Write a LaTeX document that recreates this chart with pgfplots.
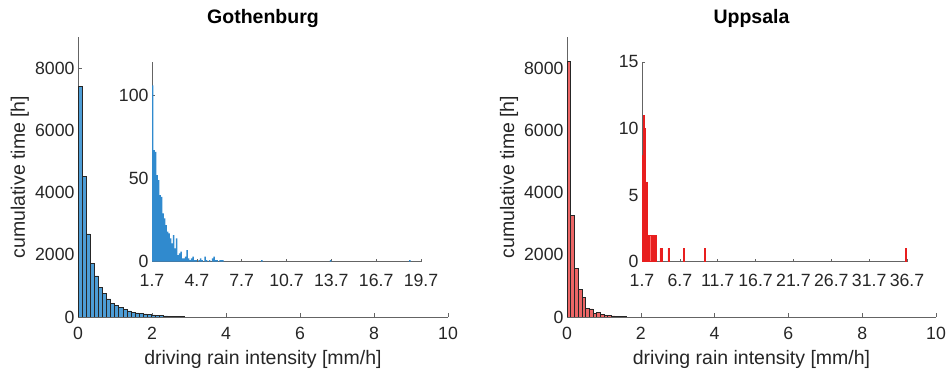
\documentclass[border=0pt]{standalone}
\usepackage{fontspec}
\setmainfont{Liberation Sans}
\usepackage{pgfplots}
\pgfplotsset{compat=1.18}
\definecolor{axgray}{RGB}{100,100,100}
\definecolor{txtgray}{RGB}{38,38,38}
\definecolor{mainblue}{RGB}{77,157,214}
\definecolor{insetblue}{RGB}{48,138,206}
\definecolor{mainred}{RGB}{236,102,102}
\definecolor{insetredfill}{RGB}{255,110,110}
\definecolor{insetredline}{RGB}{232,30,30}
\pgfplotsset{
  common/.style={
    scale only axis,
    axis x line=bottom, axis y line=left,
    axis line style={-, draw=axgray, line width=0.7bp},
    tick align=inside,
    every tick/.style={axgray, line width=0.6bp},
    tick label style={font=\fontsize{17.7bp}{20bp}\selectfont, text=txtgray},
    /pgf/number format/assume math mode=true,
    /pgf/number format/1000 sep={},
    scaled ticks=false,
  },
  mainax/.style={
    common,
    xticklabel style={yshift=-7bp},
    width=370bp, height=280bp,
    xmin=0, xmax=10, ymin=0, ymax=9000,
    xtick={0,2,4,6,8,10},
    ytick={0,2000,4000,6000,8000},
    major tick length=3.7bp,
    label style={font=\fontsize{19.5bp}{22bp}\selectfont, text=txtgray},
    xlabel={driving rain intensity [mm/h]},
    ylabel={cumulative time [h]},
    xlabel style={at={(axis description cs:0.5,-0.168)}, anchor=base},
    ylabel style={at={(axis description cs:-0.157,0.5)}, anchor=center},
    title style={at={(axis description cs:0.5,1)}, anchor=base, yshift=7.5bp,
      font=\bfseries\fontsize{19.5bp}{22bp}\selectfont, text=black},
  },
  insetax/.style={
    common,
    xticklabel style={yshift=-9bp},
    height=199.7bp,
    ymin=0,
    major tick length=2.7bp,
  },
}
\begin{document}
\begin{tikzpicture}
\path[use as bounding box] (0,0) rectangle (948bp,369bp);
% ---------------- Gothenburg ----------------
\begin{axis}[mainax, at={(78bp,52bp)}, anchor=south west, title={Gothenburg}]
\addplot[ybar interval, fill=mainblue, draw=black!85, line width=0.45bp] coordinates {
(0,7420) (0.11,4530) (0.22,2670) (0.33,1730) (0.44,1320) (0.55,960) (0.66,760)
(0.77,580) (0.88,440) (0.99,370) (1.10,310) (1.21,250) (1.32,200) (1.43,160)
(1.54,130) (1.65,120) (1.76,100) (1.87,85) (1.98,70) (2.09,55) (2.20,45)
(2.31,35) (2.42,25) (2.53,20) (2.64,15) (2.75,10) (2.86,10)};
\end{axis}
\begin{axis}[insetax, at={(152bp,107.3bp)}, anchor=south west,
  width=269bp, xmin=1.7, xmax=19.7, ymax=120,
  xtick={1.7,4.7,7.7,10.7,13.7,16.7,19.7},
  xticklabels={1.7,4.7,7.7,10.7,13.7,16.7,19.7},
  ytick={0,50,100}]
\addplot[ybar, bar width=0.1, fill=insetblue, draw=none] coordinates {
(1.75,106) (1.85,67) (1.95,66) (2.05,52) (2.15,49) (2.25,40) (2.35,39)
(2.45,29) (2.55,26) (2.65,22) (2.75,18) (2.85,17) (2.95,14) (3.05,11)
(3.15,16) (3.25,8) (3.35,14) (3.45,4) (3.55,5) (3.65,6) (3.75,2) (3.85,2)
(3.95,3) (4.05,7) (4.15,2) (4.25,1) (4.35,2) (4.45,3) (4.55,1) (4.65,1)
(4.85,1) (4.95,2) (5.05,1) (5.25,3) (5.35,1) (5.55,1) (5.75,2) (5.85,3)
(5.95,1) (6.05,1) (6.25,1) (6.35,1) (6.45,1) (9.05,1) (13.65,1) (18.95,1)};
\end{axis}
% ---------------- Uppsala ----------------
\begin{axis}[mainax, at={(567bp,52bp)}, anchor=south west, width=369bp, title={Uppsala}]
\addplot[ybar interval, fill=mainred, draw=black!85, line width=0.45bp] coordinates {
(0,8210) (0.1,3270) (0.2,1570) (0.3,890) (0.4,620) (0.5,270) (0.6,260)
(0.7,120) (0.8,150) (0.9,90) (1.0,60) (1.1,50) (1.2,40) (1.3,30) (1.4,20)
(1.5,15) (1.6,15)};
\end{axis}
\begin{axis}[insetax, at={(642bp,107.3bp)}, anchor=south west,
  width=265bp, xmin=1.7, xmax=36.7, ymax=15,
  xtick={1.7,6.7,11.7,16.7,21.7,26.7,31.7,36.7},
  xticklabels={1.7,6.7,11.7,16.7,21.7,26.7,31.7,36.7},
  ytick={0,5,10,15}]
\addplot[ybar, bar width=0.15, fill=insetredfill, draw=insetredline, line width=0.6bp] coordinates {
(1.78,8) (1.92,11) (2.06,10) (2.2,4) (2.35,6) (2.5,2) (2.65,1) (2.8,2)
(2.95,1) (3.1,2) (3.25,2) (3.4,2) (3.55,2) (4.15,1) (4.35,1) (5.2,1)
(7.2,1) (10.05,1) (36.55,1)};
\end{axis}
\end{tikzpicture}
\end{document}
